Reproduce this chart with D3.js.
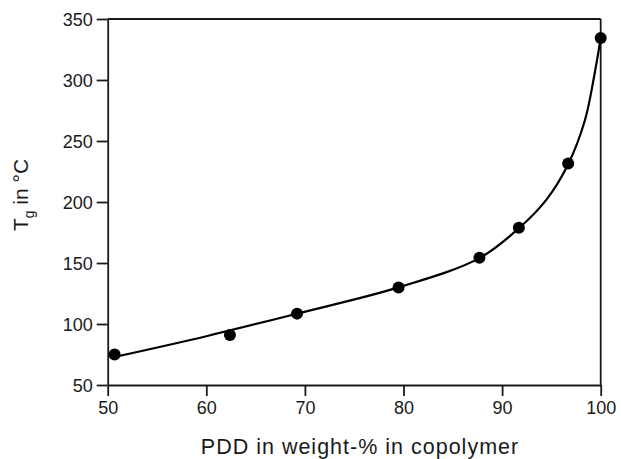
<!DOCTYPE html>
<html>
<head>
<meta charset="utf-8">
<script src="https://cdn.jsdelivr.net/npm/d3@7"></script>
<style>
  html, body { margin: 0; padding: 0; background: #fff; }
  svg { display: block; font-family: "Liberation Sans", Arial, Helvetica, sans-serif; }
</style>
</head>
<body>
<svg id="chart" width="621" height="459"></svg>
<script>
// Measured data points (PDD wt-% vs Tg in °C)
const pddValues = [50.7, 62.4, 69.2, 79.5, 87.7, 91.7, 96.7, 100];
const tgValues  = [75,   91,   108.5, 130, 154.3, 178.9, 231.5, 334.5];

// Fitted curve
const curveX = [50.7, 60, 69.2, 79.5, 87.7, 91.7, 94.5, 96.7, 98.4, 99.4, 100];
const curveY = [73,   90, 108.5, 130, 154, 178.5, 202, 231, 267, 306, 334.5];

const xTicks = [50, 60, 70, 80, 90, 100];
const yTicks = [50, 100, 150, 200, 250, 300, 350];

const svg = d3.select("#chart");
const mLeft = 107.7, mRight = 600.7, mTop = 19, mBottom = 385;

const x = d3.scaleLinear().domain([50, 100]).range([mLeft, mRight]);
const y = d3.scaleLinear().domain([50, 350]).range([mBottom, mTop]);

const axisColor = "#1a1a1a";

// Frame: top and right lines
svg.append("line").attr("x1", mLeft).attr("x2", mRight).attr("y1", mTop).attr("y2", mTop)
  .attr("stroke", axisColor).attr("stroke-width", 1.8);
svg.append("line").attr("x1", mRight).attr("x2", mRight).attr("y1", mTop).attr("y2", mBottom)
  .attr("stroke", axisColor).attr("stroke-width", 1.8);

const gx = svg.append("g").attr("transform", `translate(0,${mBottom})`)
  .call(d3.axisBottom(x).tickValues(xTicks).tickFormat(d3.format("d")).tickSize(11).tickSizeOuter(0).tickPadding(4));
const gy = svg.append("g").attr("transform", `translate(${mLeft},0)`)
  .call(d3.axisLeft(y).tickValues(yTicks).tickFormat(d3.format("d")).tickSize(11).tickSizeOuter(0).tickPadding(4));

[gx, gy].forEach(g => {
  g.select(".domain").attr("stroke", axisColor).attr("stroke-width", 1.8);
  g.selectAll(".tick line").attr("stroke", axisColor).attr("stroke-width", 1.8);
  g.selectAll(".tick text").attr("fill", "#1a1a1a").style("font-size", "18px")
    .style("font-family", '"Liberation Sans", Arial, sans-serif');
});
gy.selectAll(".tick text").attr("dy", "0.36em");
gx.selectAll(".tick text").attr("dy", "0.75em");

// Fitted curve
const line = d3.line().x(d => x(d[0])).y(d => y(d[1])).curve(d3.curveCatmullRom.alpha(0.5));
svg.append("path").datum(curveX.map((v, i) => [v, curveY[i]]))
  .attr("d", line).attr("fill", "none").attr("stroke", "#000").attr("stroke-width", 2.2);

// Points
svg.append("g").selectAll("circle").data(pddValues.map((v, i) => [v, tgValues[i]]))
  .join("circle").attr("cx", d => x(d[0])).attr("cy", d => y(d[1])).attr("r", 6).attr("fill", "#000");

// X title
svg.append("text").attr("x", 360).attr("y", 454).attr("text-anchor", "middle")
  .style("font-size", "21.5px").style("letter-spacing", "1px").attr("fill", "#1a1a1a")
  .text("PDD in weight-% in copolymer");

// Y title
const yt = svg.append("text").attr("transform", "translate(28,195) rotate(-90)")
  .attr("text-anchor", "middle").style("font-size", "21px").attr("fill", "#1a1a1a");
yt.append("tspan").text("T");
yt.append("tspan").attr("dy", 6).style("font-size", "14px").text("g");
yt.append("tspan").attr("dy", -6).text(" in °C");
</script>
</body>
</html>
